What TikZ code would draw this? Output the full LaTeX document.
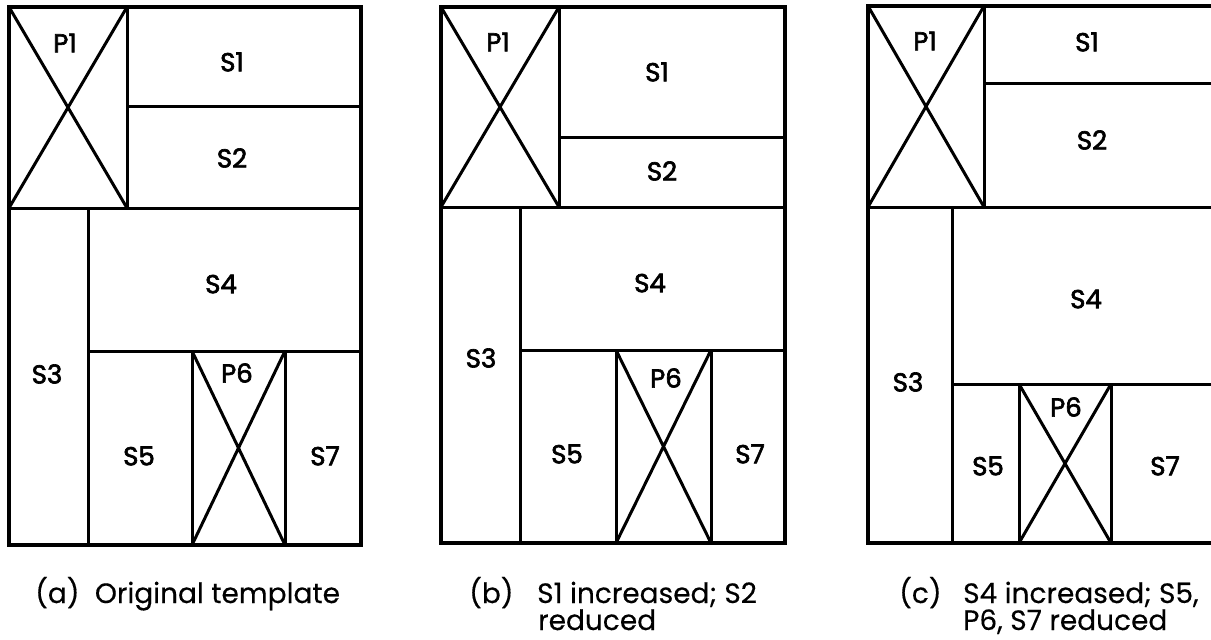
\documentclass[tikz,border=0pt]{standalone}
\usepackage{fontspec}
\setmainfont{Poppins}
\newfontfamily\lblfont[FakeBold=2.4]{Poppins}
\newfontfamily\capfont[FakeBold=0.3]{Poppins}
\begin{document}
\begin{tikzpicture}[x=1pt,y=-1pt,
  outer/.style={line width=4.5pt},
  inner/.style={line width=3pt},
  lbl/.style={font=\lblfont\fontsize{26}{26}\selectfont, inner sep=0pt},
  captxt/.style={font=\capfont\fontsize{28}{28}\selectfont, inner sep=0pt, anchor=base west}]
\useasboundingbox (0,0) rectangle (1211,640);
\clip (0,0) rectangle (1211,640);
\fill[white] (0,0) rectangle (1211,640);

% ---------- (a) ----------
\draw[inner] (127,106) -- (361,106);
\draw[inner] (9,208) -- (361,208);
\draw[inner] (127,7) -- (127,208);
\draw[inner] (9,7) -- (127,208) (127,7) -- (9,208);
\draw[inner] (88,208) -- (88,545);
\draw[inner] (88,351) -- (361,351);
\draw[inner] (192,351) -- (192,545) (285,351) -- (285,545);
\draw[inner] (192,351) -- (285,545) (285,351) -- (192,545);
\draw[outer] (9,7) rectangle (361,545);
\node[lbl] (aP1) at (65,43) {P1};
\node[lbl] (aS1) at (232,62) {S1};
\node[lbl] (aS2) at (232,158) {S2};
\node[lbl] (aS4) at (221,284) {S4};
\node[lbl] (aS3) at (47,374) {S3};
\node[lbl] (aP6) at (237,373) {P6};
\node[lbl] (aS5) at (139,456) {S5};
\node[lbl] (aS7) at (325,456) {S7};

% ---------- (b) ----------
\draw[inner] (559,137) -- (785,137);
\draw[inner] (441,207) -- (785,207);
\draw[inner] (559,7) -- (559,207);
\draw[inner] (441,7) -- (559,207) (559,7) -- (441,207);
\draw[inner] (520,207) -- (520,543);
\draw[inner] (520,350) -- (785,350);
\draw[inner] (616,350) -- (616,543) (711,350) -- (711,543);
\draw[inner] (616,350) -- (711,543) (711,350) -- (616,543);
\draw[outer] (441,7) rectangle (785,543);
\node[lbl] (bP1) at (498,42) {P1};
\node[lbl] (bS1) at (657,72) {S1};
\node[lbl] (bS2) at (662,171) {S2};
\node[lbl] (bS4) at (650,283) {S4};
\node[lbl] (bS3) at (481,358) {S3};
\node[lbl] (bP6) at (666,378) {P6};
\node[lbl] (bS5) at (567,454) {S5};
\node[lbl] (bS7) at (750,454) {S7};

% ---------- (c) ----------
\draw[inner] (984,83) -- (1230,83);
\draw[inner] (868,207) -- (1230,207);
\draw[inner] (984,6) -- (984,207);
\draw[inner] (868,6) -- (984,207) (984,6) -- (868,207);
\draw[inner] (952,207) -- (952,543);
\draw[inner] (952,384) -- (1230,384);
\draw[inner] (1019,384) -- (1019,543) (1111,384) -- (1111,543);
\draw[inner] (1019,384) -- (1111,543) (1111,384) -- (1019,543);
\draw[outer] (868,6) rectangle (1240,543);
\node[lbl] (cP1) at (925,41) {P1};
\node[lbl] (cS1) at (1087,42) {S1};
\node[lbl] (cS2) at (1092,140) {S2};
\node[lbl] (cS4) at (1086,299) {S4};
\node[lbl] (cS3) at (908,382) {S3};
\node[lbl] (cP6) at (1066,407) {P6};
\node[lbl] (cS5) at (988,466) {S5};
\node[lbl] (cS7) at (1165,466) {S7};

% ---------- captions ----------
\node[captxt] (capa) at (35,603) {(a)\hspace{0.55em}Original template};
\node[captxt] (capb) at (469,603) {(b)};
\node[captxt] (capb1) at (537,603) {S1 increased; S2};
\node[captxt] (capb2) at (538,630) {reduced};
\node[captxt] (capc) at (899,603) {(c)};
\node[captxt] (capc1) at (963,603) {S4 increased; S5,};
\node[captxt] (capc2) at (963,630) {P6, S7 reduced};
\end{tikzpicture}
\end{document}
